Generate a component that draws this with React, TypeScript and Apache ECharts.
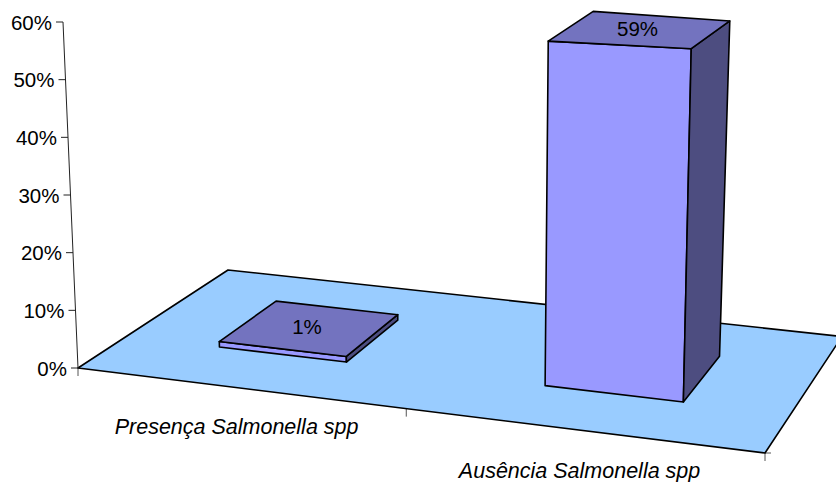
import React, { useEffect, useRef } from "react";
import * as echarts from "echarts";

// Chart data
const categories = ["Presença Salmonella spp", "Ausência Salmonella spp"];
const percentages = [1, 59];
const valueTicks = [0, 10, 20, 30, 40, 50, 60];
const categoryTicks = [0, 0.5, 1];

const WIDTH = 836;
const HEIGHT = 482;
const AXIS_MAX = 60;

// Floor plane of the oblique view: corners for (u, w) = (0,0), (1,0), (1,1), (0,1)
const FLOOR = [[78, 368], [765, 453], [842, 336.5], [228, 270]];
const AXIS_TOP = [63, 22];
const BAR_SHARE = 0.4;
const BAR_DEPTH = [0.3, 0.705];
const FONT = '20.5px "Liberation Sans", Arial, sans-serif';
const ITALIC_FONT = 'italic 21.5px "Liberation Sans", Arial, sans-serif';

// Solve the unit-square homography for the floor
function floorMatrix() {
  const [A, D, C, B] = FLOOR;
  const dx1 = [D[0] - C[0], D[1] - C[1]];
  const dx2 = [B[0] - C[0], B[1] - C[1]];
  const s = [A[0] - D[0] + C[0] - B[0], A[1] - D[1] + C[1] - B[1]];
  const det = dx1[0] * dx2[1] - dx2[0] * dx1[1];
  const g = (s[0] * dx2[1] - dx2[0] * s[1]) / det;
  const h = (dx1[0] * s[1] - s[0] * dx1[1]) / det;
  return {
    g,
    h,
    a: D[0] * (1 + g) - A[0],
    b: B[0] * (1 + h) - A[0],
    d: D[1] * (1 + g) - A[1],
    e: B[1] * (1 + h) - A[1],
  };
}
const M = floorMatrix();

function floorPoint(u: number, w: number): number[] {
  const den = 1 + M.g * u + M.h * w;
  return [
    (M.a * u + M.b * w + FLOOR[0][0]) / den,
    (M.d * u + M.e * w + FLOOR[0][1]) / den,
  ];
}

// Rise of a full-scale column at a floor position
function barPoint(u: number, w: number, v: number): number[] {
  const p = floorPoint(u, w);
  const upX = -14.2 + 24 * u + 6 * w;
  const upY = -323.2 - 58.5 * u + 7 * w + 45 * u * w;
  return [p[0] + upX * v, p[1] + upY * v];
}

function axisPoint(v: number): number[] {
  const o = FLOOR[0];
  return [o[0] + (AXIS_TOP[0] - o[0]) * v, o[1] + (AXIS_TOP[1] - o[1]) * v];
}

// Scale helpers: read the grid position from the hidden cartesian axes
function gridFractions(params: any, api: any, cat: number, val: number) {
  const c = api.coord([cat, val]);
  const sys = params.coordSys;
  return {
    u: (c[0] - sys.x) / sys.width,
    v: (sys.y + sys.height - c[1]) / sys.height,
    band: api.size([1, 0])[0] / sys.width,
  };
}

const lineStyle = { stroke: "#000", lineWidth: 1.6, lineJoin: "round" };
const tickStyle = { stroke: "#555", lineWidth: 1 };

function renderFloor() {
  return {
    type: "polygon",
    shape: { points: [floorPoint(0, 0), floorPoint(1, 0), floorPoint(1, 1), floorPoint(0, 1)] },
    style: { fill: "#99CCFF", ...lineStyle },
  };
}

function renderValueTick(params: any, api: any) {
  const { v } = gridFractions(params, api, 0, api.value(1));
  const p = axisPoint(v);
  const children: any[] = [
    {
      type: "line",
      shape: { x1: p[0] - 7, y1: p[1], x2: p[0], y2: p[1] },
      style: { stroke: "#222", lineWidth: 1 },
    },
    {
      type: "text",
      style: {
        text: `${api.value(1)}%`,
        x: p[0] - 11,
        y: p[1],
        align: "right",
        verticalAlign: "middle",
        font: FONT,
        fill: "#000",
      },
    },
  ];
  if (params.dataIndex === 0) {
    const top = axisPoint(1);
    children.push({
      type: "line",
      shape: { x1: p[0], y1: p[1], x2: top[0], y2: top[1] },
      style: { stroke: "#222", lineWidth: 1 },
    });
  }
  return { type: "group", children };
}

function renderCategoryTick(_params: any, api: any) {
  const t = api.value(0);
  const p = floorPoint(t, 0);
  const children: any[] = [
    { type: "line", shape: { x1: p[0], y1: p[1], x2: p[0], y2: p[1] + 8 }, style: tickStyle },
  ];
  // The closing tick of the axis also has a short horizontal stub
  if (t === 1) {
    children.push({
      type: "line",
      shape: { x1: p[0], y1: p[1], x2: p[0] + 6, y2: p[1] },
      style: tickStyle,
    });
  }
  return { type: "group", children };
}

function renderCategoryLabel(params: any, api: any) {
  const i = api.value(0);
  const { u } = gridFractions(params, api, i, 0);
  const p = floorPoint(u, 0);
  return {
    type: "text",
    style: {
      text: categories[i],
      x: p[0] - 2,
      y: p[1] + 39 + i * 2,
      align: "center",
      verticalAlign: "middle",
      font: ITALIC_FONT,
      fill: "#000",
    },
  };
}

function renderBar(params: any, api: any) {
  const i = api.value(0);
  const val = api.value(1);
  const { u, v, band } = gridFractions(params, api, i, val);
  const half = (band * BAR_SHARE) / 2;
  const [u0, u1] = [u - half, u + half];
  const [w0, w1] = BAR_DEPTH;
  const poly = (pts: number[][], fill: string) => ({
    type: "polygon",
    shape: { points: pts },
    style: { fill, ...lineStyle },
  });
  const centre = barPoint(u, (w0 + w1) / 2, v);
  return {
    type: "group",
    children: [
      poly([barPoint(u0, w0, 0), barPoint(u1, w0, 0), barPoint(u1, w0, v), barPoint(u0, w0, v)], "#9999FF"),
      poly([barPoint(u1, w0, 0), barPoint(u1, w1, 0), barPoint(u1, w1, v), barPoint(u1, w0, v)], "#4D4D80"),
      poly([barPoint(u0, w0, v), barPoint(u1, w0, v), barPoint(u1, w1, v), barPoint(u0, w1, v)], "#7373BF"),
      {
        type: "text",
        style: {
          text: `${val}%`,
          x: centre[0] - 3,
          y: centre[1] - 1,
          align: "center",
          verticalAlign: "middle",
          font: FONT,
          fill: "#000",
        },
      },
    ],
  };
}

export default function App() {
  const ref = useRef<HTMLDivElement>(null);
  useEffect(() => {
    const chart = echarts.init(ref.current!, undefined, { renderer: "svg" });
    const axisEncode = { x: 0, y: 1 };
    chart.setOption({
      animation: false,
      backgroundColor: "#fff",
      grid: { left: 0, right: 0, top: 0, bottom: 0 },
      xAxis: { type: "category", data: categories, show: false },
      yAxis: { type: "value", min: 0, max: AXIS_MAX, show: false },
      series: [
        { type: "custom", silent: true, z: 1, data: [[0, 0]], encode: axisEncode, renderItem: renderFloor },
        {
          type: "custom",
          silent: true,
          z: 2,
          data: valueTicks.map((t) => [0, t]),
          encode: axisEncode,
          renderItem: renderValueTick,
        },
        {
          type: "custom",
          silent: true,
          z: 0,
          coordinateSystem: "none",
          data: categoryTicks.map((t) => [t]),
          renderItem: renderCategoryTick,
        },
        {
          type: "custom",
          silent: true,
          z: 2,
          data: categories.map((_, i) => [i, 0]),
          encode: axisEncode,
          renderItem: renderCategoryLabel,
        },
        {
          type: "custom",
          silent: true,
          z: 3,
          data: percentages.map((p, i) => [i, p]),
          encode: axisEncode,
          renderItem: renderBar,
        },
      ],
    });
    return () => chart.dispose();
  }, []);
  return (
    <div
      ref={ref}
      style={{ position: "fixed", left: 0, top: 0, width: WIDTH, height: HEIGHT }}
    />
  );
}
